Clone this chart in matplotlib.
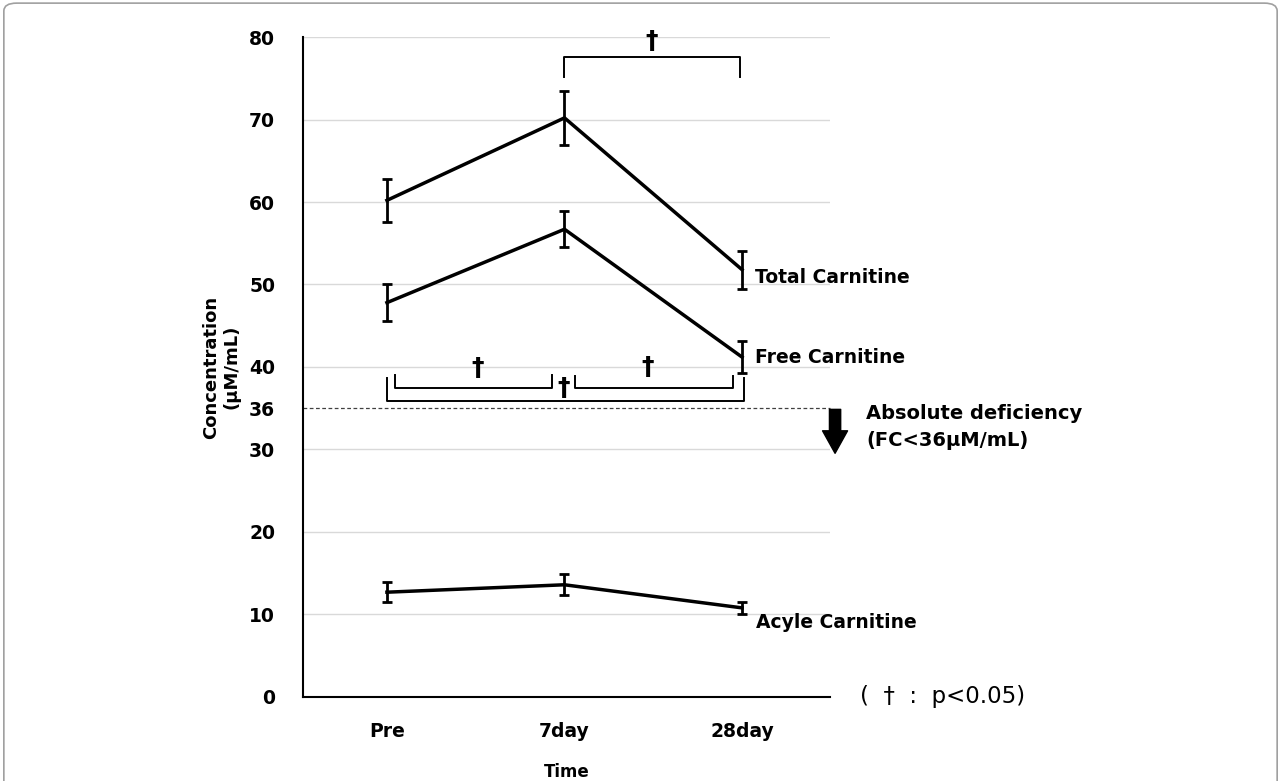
import matplotlib.pyplot as plt
from matplotlib.patches import FancyBboxPatch

# === data ===
time_labels = ["Pre", "7day", "28day"]
total_mean = [60.2, 70.2, 51.8]
total_err = [2.6, 3.3, 2.3]
free_mean = [47.8, 56.7, 41.2]
free_err = [2.2, 2.2, 1.9]
acyl_mean = [12.7, 13.6, 10.8]
acyl_err = [1.2, 1.3, 0.7]
y_ticks = [0, 10, 20, 30, 35, 40, 50, 60, 70, 80]
y_tick_labels = ["0", "10", "20", "30", "36", "40", "50", "60", "70", "80"]
deficiency_line = 35

x = list(range(len(time_labels)))

fig = plt.figure(figsize=(12.81, 7.81), dpi=100)
ax = fig.add_axes([0.2365, 0.1076, 0.4115, 0.845])

# outer frame (bottom edge runs off the picture)
fig.patches.append(FancyBboxPatch((0.003, -0.05), 0.994, 1.046,
                                  boxstyle="round,pad=0,rounding_size=0.01",
                                  transform=fig.transFigure, fill=False,
                                  edgecolor="#a0a0a0", linewidth=1.2))

# grid
for g in [10, 20, 30, 40, 50, 60, 70, 80]:
    ax.axhline(g, color="#d9d9d9", linewidth=1, zorder=0)

# series
for mean, err in [(total_mean, total_err), (free_mean, free_err), (acyl_mean, acyl_err)]:
    ax.errorbar(x, mean, yerr=err, color="black", linewidth=2.5,
                elinewidth=2, capsize=3.5, capthick=2, zorder=3)

# deficiency threshold
ax.plot([-0.473, 2.496], [deficiency_line, deficiency_line], color="#404040",
        linestyle=(0, (3, 2)), linewidth=0.9, clip_on=False)

# significance brackets
def bracket(x0, x1, y_bar, y_leg, lw=1.4):
    ax.plot([x0, x0, x1, x1], [y_leg, y_bar, y_bar, y_leg], color="black",
            linewidth=lw, clip_on=False, zorder=2)

dag = dict(ha="center", va="center", fontsize=18, fontweight="bold")
bracket(1.0, 1.986, 77.6, 75.1)
ax.text(1.49, 79.5, "†", **dag)
bracket(0.045, 0.93, 37.5, 39.0)
ax.text(0.51, 39.9, "†", **dag)
bracket(1.06, 1.95, 37.5, 38.9)
ax.text(1.47, 40.0, "†", **dag)
bracket(0.0, 2.01, 35.9, 38.7)
ax.text(0.995, 37.5, "†", **dag)

# labels for series
lab = dict(fontsize=13.5, fontweight="bold", va="center", ha="left")
ax.text(2.073, 50.8, "Total Carnitine", **lab)
ax.text(2.073, 41.1, "Free Carnitine", **lab)
ax.text(2.08, 9.0, "Acyle Carnitine", **lab)
ax.text(2.699, 34.4, "Absolute deficiency", fontsize=14, fontweight="bold",
        va="center", ha="left")
ax.text(2.699, 31.1, "(FC<36μM/mL)", fontsize=14, fontweight="bold",
        va="center", ha="left")
ax.text(2.665, 0.0, "(  †  :  p<0.05)", fontsize=16.5, va="center", ha="left")

ax.annotate("", xy=(2.524, 29.2), xytext=(2.524, 35.2),
            arrowprops=dict(arrowstyle="simple,head_length=0.9,head_width=1.0,tail_width=0.45",
                            color="black", mutation_scale=18),
            annotation_clip=False)

# axes styling
ax.set_xlim(-0.473, 2.496)
ax.set_ylim(0, 80)
ax.set_xticks(x)
ax.set_xticklabels(time_labels, fontsize=13.5, fontweight="bold")
ax.set_yticks(y_ticks)
ax.set_yticklabels(y_tick_labels, fontsize=13.5, fontweight="bold")
ax.tick_params(length=0, pad=20)
ax.tick_params(axis="x", pad=18)
for s in ["top", "right"]:
    ax.spines[s].set_visible(False)
ax.spines["left"].set_linewidth(1.5)
ax.spines["bottom"].set_linewidth(1.5)
ax.set_ylabel("Concentration\n(μM/mL)", fontsize=13, fontweight="bold", labelpad=6)
ax.set_xlabel("Time", fontsize=12, fontweight="bold", labelpad=16)

fig.savefig("out.png", dpi=100)
